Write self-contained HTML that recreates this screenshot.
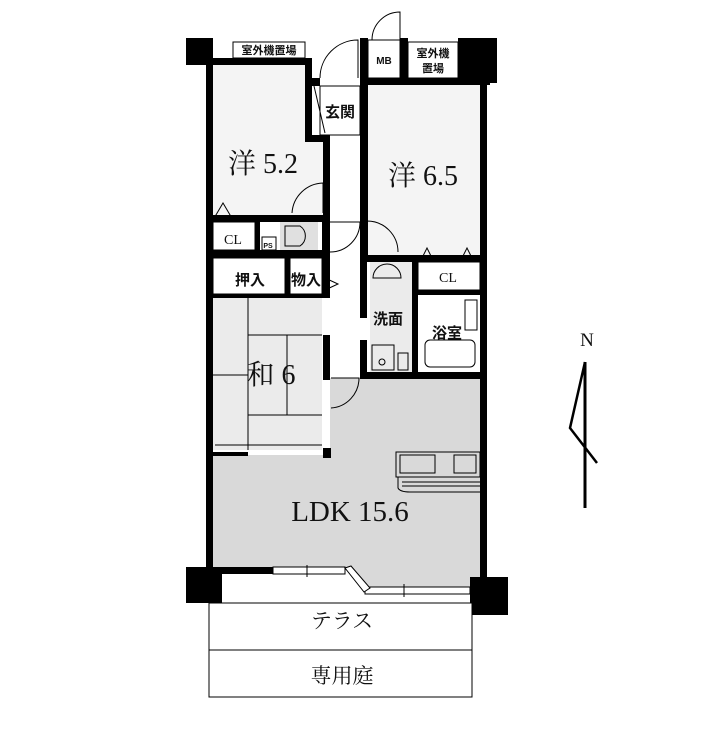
<!DOCTYPE html>
<html><head><meta charset="utf-8"><style>
html,body{margin:0;padding:0;background:#fff;width:705px;height:734px;overflow:hidden}
svg{display:block}
text{font-family:"Liberation Serif","Noto Serif CJK SC",serif;fill:#111}
.s{font-family:"Liberation Sans","Noto Sans CJK JP",sans-serif;font-weight:bold}
.g{font-family:"Liberation Sans","Noto Sans CJK JP",sans-serif;font-weight:bold}
</style></head><body>
<svg width="705" height="734" viewBox="0 0 705 734">
<!-- room fills -->
<rect x="213" y="65" width="94" height="150" fill="#f4f4f4"/>
<rect x="307" y="140" width="18" height="75" fill="#f4f4f4"/>
<rect x="367" y="85" width="113" height="170" fill="#f4f4f4"/>
<rect x="213" y="298" width="109" height="152" fill="#ebebeb"/>
<rect x="370" y="262" width="42" height="110" fill="#ebebeb"/>
<path d="M330 378 H480 V588 H366 L347 570 H213 V455 H330 Z" fill="#d9d9d9"/>
<rect x="280" y="222" width="38" height="28" fill="#e0e0e0"/>
<!-- walls -->
<g fill="#000">
<rect x="186" y="38" width="27" height="27"/>
<rect x="206" y="38" width="7" height="535"/>
<rect x="213" y="58" width="97" height="7"/>
<rect x="305" y="58" width="7" height="82"/>
<rect x="305" y="135" width="25" height="7"/>
<rect x="323" y="135" width="7" height="80"/>
<rect x="312" y="78" width="8" height="8"/>
<rect x="360" y="38" width="8" height="217"/>
<rect x="360" y="78" width="130" height="7"/>
<rect x="400" y="38" width="8" height="40"/>
<rect x="458" y="38" width="39" height="45"/>
<rect x="480" y="83" width="7" height="495"/>
<rect x="213" y="215" width="115" height="7"/>
<rect x="213" y="250" width="115" height="8"/>
<rect x="255" y="215" width="5" height="43"/>
<rect x="285" y="258" width="5" height="40"/>
<rect x="322" y="215" width="8" height="80"/>
<rect x="213" y="294" width="117" height="4"/>
<rect x="323" y="335" width="7" height="45"/>
<rect x="323" y="448" width="8" height="10"/>
<rect x="213" y="452" width="35" height="4"/>
<rect x="360" y="255" width="127" height="7"/>
<rect x="412" y="262" width="6" height="110"/>
<rect x="418" y="290" width="62" height="5"/>
<rect x="360" y="262" width="7" height="56"/>
<rect x="360" y="340" width="7" height="38"/>
<rect x="360" y="372" width="127" height="7"/>
<rect x="213" y="567" width="60" height="7"/>
<rect x="186" y="567" width="36" height="36"/>
<rect x="470" y="577" width="38" height="38"/>
</g>
<!-- windows -->
<g stroke="#000" fill="#fff" stroke-width="1">
<rect x="273" y="567" width="72" height="7"/>
<rect x="365" y="587" width="105" height="7"/>
<path d="M345 568 L351 566 L370 588 L364 592 Z"/>
<line x1="307" y1="565" x2="307" y2="577"/><line x1="404" y1="584" x2="404" y2="597"/>
</g>
<!-- boxes -->
<g fill="#fff" stroke="#000" stroke-width="1">
<rect x="233" y="42" width="72" height="16"/>
<rect x="368" y="40" width="32" height="38"/>
<rect x="408" y="42" width="50" height="36"/>
<rect x="320" y="86" width="40" height="49"/>
<rect x="209" y="603" width="263" height="47"/>
<rect x="209" y="650" width="263" height="47"/>
<rect x="213" y="222" width="42" height="28"/>
<rect x="213" y="258" width="72" height="36"/>
<rect x="290" y="258" width="32" height="36"/>
<rect x="418" y="262" width="62" height="28"/>
</g>
<!-- doors -->
<g fill="none" stroke="#000" stroke-width="1">
<path d="M320 78 A38 38 0 0 1 358 40 V78"/>
<path d="M372 40 A28 28 0 0 1 400 12 V40"/>
<path d="M292 213 A32 32 0 0 1 323 183 V213"/>
<path d="M330 252 A30 30 0 0 0 360 222 H330"/>
<path d="M398 252 A31 31 0 0 0 367 221 V252"/>
<path d="M331 408 A30 30 0 0 0 359 378 H331"/>
<path d="M314 86 L325 133"/>
<path d="M213 220 L223 203 L233 220"/><path d="M420 262 L427 248 L434 262"/><path d="M460 262 L467 248 L474 262"/>
<path d="M325 278 L338 284 L325 290"/>
<path d="M248 298 V450 M248 335 H322 M287 335 V415 M248 415 H322 M213 375 H248 M215 445 H322"/>
<rect x="425" y="340" width="50" height="27" rx="5"/>
<rect x="465" y="300" width="12" height="30"/>
<path d="M373 278 A14 14 0 0 1 401 278 Z"/>
<rect x="372" y="345" width="22" height="25"/><circle cx="382" cy="362" r="3"/>
<rect x="398" y="353" width="10" height="17"/>
<path d="M285 226 H300 A12 12 0 0 1 300 246 H285 Z"/>
<rect x="262" y="237" width="14" height="13"/>
<rect x="396" y="452" width="84" height="25"/>
<rect x="400" y="455" width="35" height="18"/>
<rect x="454" y="455" width="22" height="18"/>
<path d="M398 477 V488 Q400 492 410 492 H480 M402 482 H480 M402 486 H480"/>
<path d="M585 362 L570 428 L597 463" stroke-width="2.5"/>
</g>
<line x1="585" y1="362" x2="585" y2="508" stroke="#000" stroke-width="3"/>
<!-- text -->
<text class="s" x="269" y="54" font-size="11" text-anchor="middle">室外機置場</text>
<text class="s" x="384" y="64" font-size="10" text-anchor="middle">MB</text>
<text class="s" x="433" y="57" font-size="11" text-anchor="middle">室外機</text>
<text class="s" x="433" y="72" font-size="11" text-anchor="middle">置場</text>
<text class="g" x="340" y="117" font-size="15" text-anchor="middle">玄関</text>
<text x="263" y="173" font-size="28" text-anchor="middle">洋 5.2</text>
<text x="423" y="185" font-size="28" text-anchor="middle">洋 6.5</text>
<text x="233" y="244" font-size="14" text-anchor="middle">CL</text>
<text class="s" x="268" y="248" font-size="7" text-anchor="middle">PS</text>
<text x="448" y="282" font-size="14" text-anchor="middle">CL</text>
<text class="g" x="250" y="285" font-size="15" text-anchor="middle">押入</text>
<text class="g" x="306" y="285" font-size="15" text-anchor="middle">物入</text>
<text class="g" x="388" y="324" font-size="15" text-anchor="middle">洗面</text>
<text class="g" x="447" y="338" font-size="15" text-anchor="middle">浴室</text>
<text x="271" y="384" font-size="28" text-anchor="middle">和 6</text>
<text x="350" y="521" font-size="29" text-anchor="middle">LDK 15.6</text>
<text x="342" y="628" font-size="21" text-anchor="middle">テラス</text>
<text x="342" y="683" font-size="21" text-anchor="middle">専用庭</text>
<text x="587" y="346" font-size="19" text-anchor="middle">N</text>
</svg>
</body></html>
